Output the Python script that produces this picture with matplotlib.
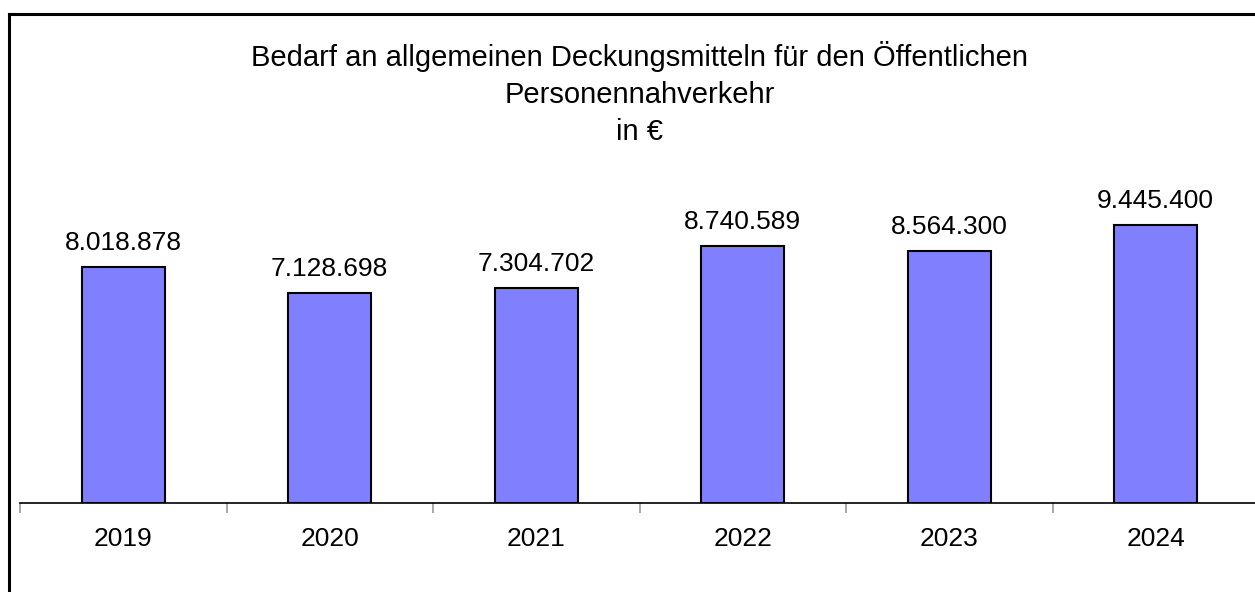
import numpy as np
import matplotlib.pyplot as plt
from matplotlib.lines import Line2D

plt.rcParams['font.family'] = ['Liberation Sans', 'DejaVu Sans']

years = ['2019', '2020', '2021', '2022', '2023', '2024']
werte = [8018878, 7128698, 7304702, 8740589, 8564300, 9445400]
labels = ['8.018.878', '7.128.698', '7.304.702', '8.740.589', '8.564.300', '9.445.400']

W, H = 1255, 592
fig = plt.figure(figsize=(W / 100, H / 100), dpi=100)
# Achse: x 20..1259 px, Grundlinie bei y=503 px
left = 20 / W
width = 1239 / W
bottom = 1 - 503 / H
height = 353 / H
ax = fig.add_axes([left, bottom, width, height])

x = np.arange(len(years))
ax.bar(x, werte, width=0.4, color='#8080FF', edgecolor='black', linewidth=1.5, zorder=3)
for xi, v, lab in zip(x, werte, labels):
    ax.annotate(lab, (xi, v), xytext=(0, 8.5), textcoords='offset points',
                ha='center', va='bottom', fontsize=19)

ax.set_xlim(-0.5, 5.5)
ax.set_ylim(0, 12e6)
for s in ['top', 'right', 'left']:
    ax.spines[s].set_visible(False)
ax.spines['bottom'].set_linewidth(1.2)
ax.set_yticks([])
ax.set_xticks(x)
ax.set_xticklabels(years, fontsize=19)
ax.tick_params(axis='x', which='major', length=0, pad=17.5)
ax.set_xticks(np.arange(-0.5, 6.0, 1.0), minor=True)
ax.tick_params(axis='x', which='minor', length=7, color='#999999', width=1.2)

# Titel (in Pixel von oben positioniert)
fig.text((20 + 1239 / 2) / W, 1 - 41 / H,
         'Bedarf an allgemeinen Deckungsmitteln für den Öffentlichen\nPersonennahverkehr\nin €',
         fontsize=21, linespacing=1.41, ha='center', va='top', multialignment='center')

# Rahmen
fig.add_artist(Line2D([9 / W, 9 / W], [0, 1 - 14 / H], color='black', linewidth=2.2, transform=fig.transFigure))
fig.add_artist(Line2D([9 / W, 1], [1 - 14 / H, 1 - 14 / H], color='black', linewidth=2.2, transform=fig.transFigure))

fig.savefig('out.png', dpi=100)
